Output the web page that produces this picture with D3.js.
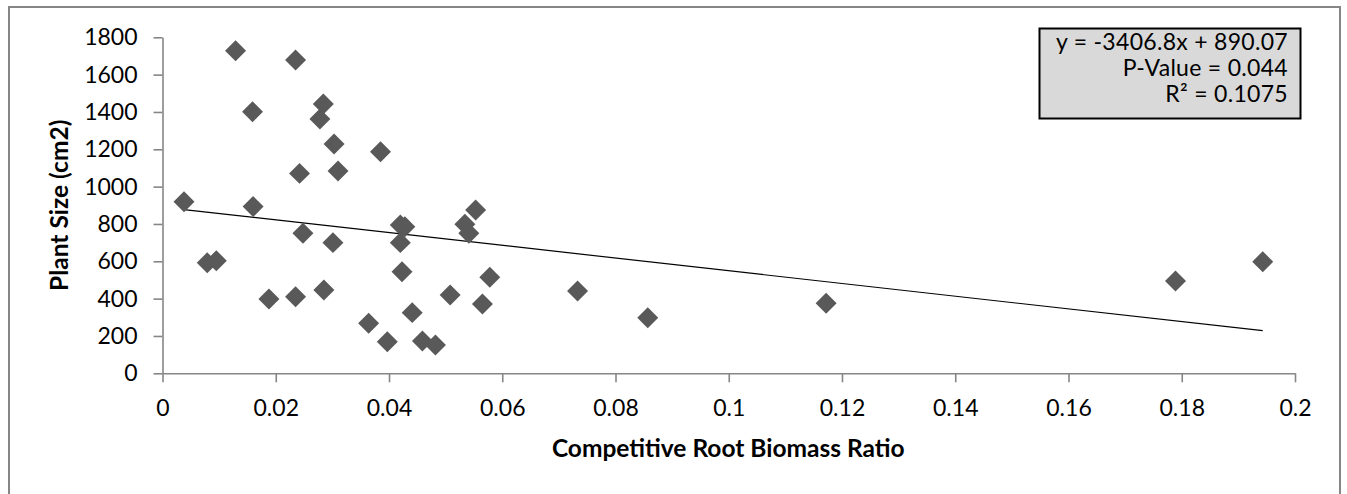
<!DOCTYPE html>
<html>
<head>
<meta charset="utf-8">
<script src="https://cdn.jsdelivr.net/npm/d3@7"></script>
<style>
  html, body { margin: 0; padding: 0; background: #fff; }
  svg { display: block; }
  text { font-family: Lato, "Open Sans", sans-serif; fill: #000; }
</style>
</head>
<body>
<svg id="chart" width="1347" height="494"></svg>
<script>
// Competitive root biomass ratio (x) against plant size in cm2 (y)
const rootRatio = [
  0.0038, 0.0079, 0.0095, 0.0129, 0.0159, 0.0160, 0.0188, 0.0235, 0.0235, 0.0242,
  0.0248, 0.0284, 0.0278, 0.0285, 0.0303, 0.0310, 0.0301, 0.0385, 0.0364, 0.0397,
  0.0420, 0.0428, 0.0420, 0.0423, 0.0441, 0.0459, 0.0482, 0.0508, 0.0534, 0.0541,
  0.0553, 0.0565, 0.0578, 0.0733, 0.0857, 0.1172, 0.1789, 0.1943
];
const plantSize = [
  919, 592, 603, 1728, 1401, 893, 398, 1678, 410, 1071,
  750, 1443, 1362, 446, 1228, 1084, 700, 1187, 268, 169,
  795, 785, 700, 544, 325, 173, 152, 419, 798, 750,
  875, 371, 514, 441, 298, 375, 494, 598
];

// Linear fit and its statistics
const trendSlope = -3406.8;
const trendIntercept = 890.07;
const fitLabels = ["y = -3406.8x + 890.07", "P-Value = 0.044", "R\u00B2 = 0.1075"];

// Axis ticks
const xTicks = [0, 0.02, 0.04, 0.06, 0.08, 0.1, 0.12, 0.14, 0.16, 0.18, 0.2];
const yTicks = [0, 200, 400, 600, 800, 1000, 1200, 1400, 1600, 1800];

const xTitle = "Competitive Root Biomass Ratio";
const yTitle = "Plant Size (cm2)";

const svg = d3.select("#chart");
const plot = { left: 162.5, right: 1295, top: 37.3, bottom: 373.3 };

const axisColor = "#868686";
const markColor = "#595959";
const fontSize = 23;
const titleSize = 24.5;
const boxFontSize = 23;

// Outer chart frame
svg.append("rect")
  .attr("x", 9).attr("y", 7)
  .attr("width", 1331).attr("height", 500)
  .attr("fill", "#fff")
  .attr("stroke", axisColor)
  .attr("stroke-width", 2);

const x = d3.scaleLinear().domain([0, 0.2]).range([plot.left, plot.right]);
const y = d3.scaleLinear().domain([0, 1800]).range([plot.bottom, plot.top]);

// Y axis
const yAxis = svg.append("g")
  .attr("transform", `translate(${plot.left},0)`)
  .call(d3.axisLeft(y).tickValues(yTicks).tickSize(9).tickSizeOuter(0).tickPadding(16)
    .tickFormat(d3.format("d")));

// X axis
const xAxis = svg.append("g")
  .attr("transform", `translate(0,${plot.bottom})`)
  .call(d3.axisBottom(x).tickValues(xTicks).tickSize(9).tickSizeOuter(0).tickPadding(17)
    .tickFormat(d => d === 0 ? "0" : String(+d.toFixed(2))));

[yAxis, xAxis].forEach(g => {
  g.select(".domain").attr("stroke", axisColor).attr("stroke-width", 1.6);
  g.selectAll(".tick line").attr("stroke", axisColor).attr("stroke-width", 1.6);
  g.selectAll(".tick text")
    .attr("font-family", "Lato, 'Open Sans', sans-serif")
    .attr("font-size", fontSize)
    .attr("fill", "#000");
});

// Axis titles
svg.append("text")
  .attr("x", (plot.left + plot.right) / 2 - 0.5)
  .attr("y", 457)
  .attr("text-anchor", "middle")
  .attr("font-size", titleSize)
  .attr("font-weight", "bold")
  .text(xTitle);

svg.append("text")
  .attr("transform", `translate(68,${(plot.top + plot.bottom) / 2}) rotate(-90)`)
  .attr("text-anchor", "middle")
  .attr("font-size", titleSize)
  .attr("font-weight", "bold")
  .text(yTitle);

// Trend line across the observed x range
const [xMin, xMax] = d3.extent(rootRatio);
svg.append("line")
  .attr("x1", x(xMin)).attr("y1", y(trendSlope * xMin + trendIntercept))
  .attr("x2", x(xMax)).attr("y2", y(trendSlope * xMax + trendIntercept))
  .attr("stroke", "#000")
  .attr("stroke-width", 1.2);

// Diamond markers
const points = rootRatio.map((v, i) => ({ x: v, y: plantSize[i] }));
const diamond = d3.symbol().type(d3.symbolSquare).size(220);
svg.append("g")
  .selectAll("path")
  .data(points)
  .join("path")
  .attr("d", diamond)
  .attr("transform", d => `translate(${x(d.x)},${y(d.y)}) rotate(45)`)
  .attr("fill", markColor);

// Fit statistics box
const box = svg.append("g");
box.append("rect")
  .attr("x", 1039.5).attr("y", 28.5)
  .attr("width", 261).attr("height", 90)
  .attr("fill", "#d9d9d9")
  .attr("stroke", "#000")
  .attr("stroke-width", 2);
box.selectAll("text")
  .data(fitLabels)
  .join("text")
  .attr("x", 1288)
  .attr("y", (d, i) => 50 + i * 26)
  .attr("text-anchor", "end")
  .attr("font-size", boxFontSize)
  .attr("letter-spacing", 0.3)
  .text(d => d);
</script>
</body>
</html>
